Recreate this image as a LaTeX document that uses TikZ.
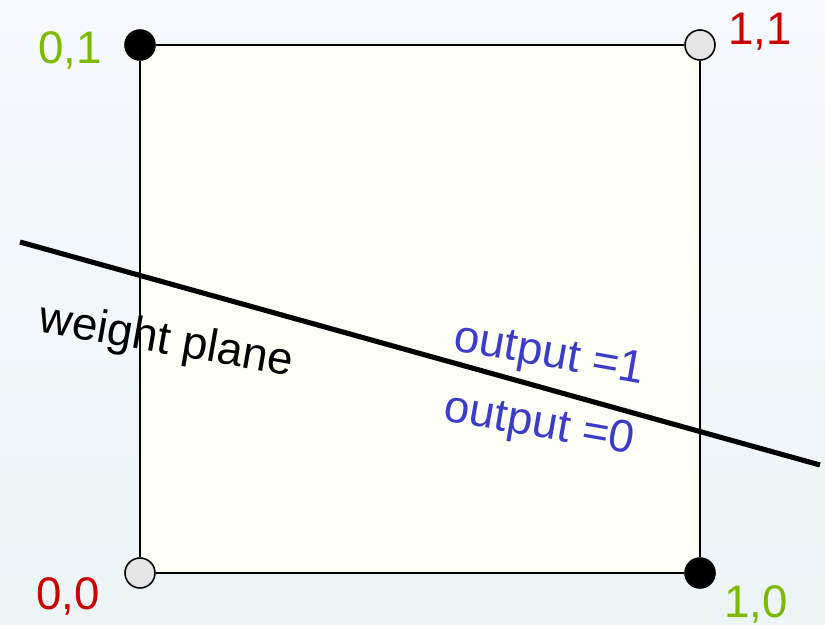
\documentclass[tikz,border=0pt]{standalone}
\usepackage{fontspec}
\setmainfont{Liberation Sans}
\definecolor{ptgreen}{RGB}{124,186,0}
\definecolor{ptred}{RGB}{204,0,0}
\definecolor{ptblue}{RGB}{60,60,200}
\definecolor{sqfill}{RGB}{254,255,246}
\begin{document}
\begin{tikzpicture}[x=0.02cm, y=-0.02cm,
    corner/.style={circle, draw=black, line width=0.9pt, minimum size=0.6cm, inner sep=0pt},
    oncorner/.style={corner, fill=black},
    offcorner/.style={corner, fill=gray!20},
    lbl/.style={font=\fontsize{26}{30}\selectfont, inner sep=0pt}]
  % background
  \shade[top color={rgb,255:red,246;green,249;blue,253}, bottom color={rgb,255:red,237;green,245;blue,247}] (0,0) rectangle (825,625);
  \useasboundingbox (0,0) rectangle (825,625);
  \fill[sqfill] (140,45) rectangle (700,573);
  % corners of the input square
  \node[oncorner]  (c01) at (140,45)  {};
  \node[offcorner] (c11) at (700,45)  {};
  \node[offcorner] (c00) at (140,573) {};
  \node[oncorner]  (c10) at (700,573) {};
  \draw[line width=0.9pt] (c01) -- (c11) (c11) -- (c10) (c10) -- (c00) (c00) -- (c01);
  % weight plane
  \coordinate (wl) at (20,242);
  \coordinate (wr) at (820,465);
  \draw[line width=2.9pt] (wl) -- (wr);
  \node[lbl, text=ptgreen] (l01) at (70,50)  {0,1};
  \node[lbl, text=ptred]   (l11) at (760,32) {1,1};
  \node[lbl, text=ptred]   (l00) at (68,596) {0,0};
  \node[lbl, text=ptgreen] (l10) at (756,604) {1,0};
  \node[lbl, rotate=-10] (wp) at (166,342) {weight plane};
  \node[lbl, rotate=-10, text=ptblue] (o1) at (549,356) {output =1};
  \node[lbl, rotate=-10, text=ptblue] (o0) at (539,426) {output =0};
\end{tikzpicture}
\end{document}
